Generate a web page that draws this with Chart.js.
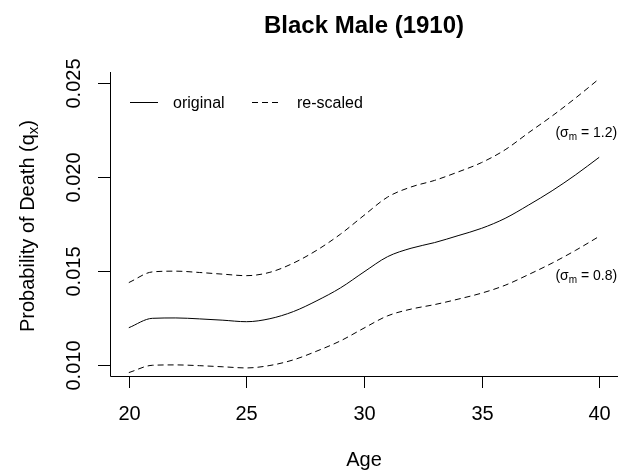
<!DOCTYPE html>
<html>
<head>
<meta charset="utf-8">
<script src="https://cdn.jsdelivr.net/npm/chart.js@4/dist/chart.umd.min.js"></script>
<style>
  html, body { margin: 0; padding: 0; background: #fff; }
  #wrap { width: 618px; height: 473px; }
</style>
</head>
<body>
<div id="wrap"><canvas id="qx-chart" width="618" height="473"></canvas></div>
<script>
// ages and death probabilities
const ages = [20, 21, 22, 23, 24, 25, 26, 27, 28, 29, 30, 31, 32, 33, 34, 35, 36, 37, 38, 39, 40];
const original = [0.01198, 0.01248, 0.0125, 0.01245, 0.01238, 0.0123, 0.01246, 0.01284, 0.01342, 0.0141, 0.01495,
  0.01576, 0.01621, 0.01651, 0.01688, 0.01727, 0.0178, 0.01851, 0.01927, 0.02012, 0.02105];
const rescaledHigh = [0.01438, 0.01495, 0.01499, 0.01492, 0.01483, 0.01475, 0.01493, 0.01542, 0.01611, 0.01696, 0.01796,
  0.01893, 0.01947, 0.01982, 0.02027, 0.02077, 0.02145, 0.02236, 0.02325, 0.02421, 0.02523];
const rescaledLow = [0.00959, 0.00998, 0.01, 0.00996, 0.0099, 0.00984, 0.00997, 0.01027, 0.01074, 0.01128, 0.01196,
  0.01261, 0.01297, 0.01321, 0.0135, 0.01382, 0.01424, 0.01481, 0.01542, 0.0161, 0.01684];

const xTicks = [20, 25, 30, 35, 40];
const yTicks = [0.010, 0.015, 0.020, 0.025];
const yTickLabels = ['0.010', '0.015', '0.020', '0.025'];
const sigmaLabels = ['1.2', '0.8'];
const sigmaAt = [[39.45, 0.0224], [39.45, 0.0148]];

const FONT = '"Liberation Sans", Arial, sans-serif';
const pts = vals => ages.map((a, i) => ({ x: a, y: vals[i] }));

// R-style frame, ticks, labels, legend and notes
const rAxes = {
  id: 'rAxes',
  afterDraw(chart) {
    const { ctx, chartArea: ca, scales: { x, y } } = chart;
    ctx.save();
    ctx.strokeStyle = '#000';
    ctx.fillStyle = '#000';
    ctx.lineWidth = 1;

    // bty = "l"
    ctx.beginPath();
    ctx.moveTo(ca.left + 0.5, ca.top);
    ctx.lineTo(ca.left + 0.5, ca.bottom + 0.5);
    ctx.lineTo(ca.right, ca.bottom + 0.5);
    ctx.stroke();

    ctx.font = '20px ' + FONT;
    ctx.textAlign = 'center';
    ctx.textBaseline = 'alphabetic';
    xTicks.forEach(t => {
      const px = Math.round(x.getPixelForValue(t)) + 0.5;
      ctx.beginPath();
      ctx.moveTo(px, ca.bottom);
      ctx.lineTo(px, ca.bottom + 12);
      ctx.stroke();
      ctx.fillText(String(t), px, 420);
    });
    yTicks.forEach((t, i) => {
      const py = Math.round(y.getPixelForValue(t)) + 0.5;
      ctx.beginPath();
      ctx.moveTo(ca.left - 12, py);
      ctx.lineTo(ca.left, py);
      ctx.stroke();
      ctx.save();
      ctx.translate(80, py);
      ctx.rotate(-Math.PI / 2);
      ctx.fillText(yTickLabels[i], 0, 0);
      ctx.restore();
    });

    // title and axis titles
    ctx.font = 'bold 24px ' + FONT;
    ctx.fillText('Black Male (1910)', 364, 33);
    ctx.font = '20px ' + FONT;
    ctx.fillText('Age', 364, 466);

    ctx.save();
    ctx.translate(34, 226);
    ctx.rotate(-Math.PI / 2);
    ctx.textAlign = 'left';
    const main = 'Probability of Death (q';
    ctx.font = '20px ' + FONT;
    const w1 = ctx.measureText(main).width;
    const w3 = ctx.measureText(')').width;
    ctx.font = '15px ' + FONT;
    const w2 = ctx.measureText('x').width;
    let sx = -(w1 + w2 + w3) / 2;
    ctx.font = '20px ' + FONT;
    ctx.fillText(main, sx, 0);
    ctx.font = '15px ' + FONT;
    ctx.fillText('x', sx + w1, 4);
    ctx.font = '20px ' + FONT;
    ctx.fillText(')', sx + w1 + w2, 0);
    ctx.restore();

    // legend
    ctx.beginPath();
    ctx.moveTo(130, 102.5);
    ctx.lineTo(158, 102.5);
    ctx.stroke();
    ctx.setLineDash([6, 4]);
    ctx.beginPath();
    ctx.moveTo(252, 102.5);
    ctx.lineTo(278, 102.5);
    ctx.stroke();
    ctx.setLineDash([]);
    ctx.font = '16px ' + FONT;
    ctx.textAlign = 'left';
    ctx.fillText('original', 173, 108);
    ctx.fillText('re-scaled', 297, 108);

    // sigma notes
    sigmaLabels.forEach((s, i) => {
      const cx = x.getPixelForValue(sigmaAt[i][0]);
      const cy = y.getPixelForValue(sigmaAt[i][1]) + 5;
      ctx.font = '14px ' + FONT;
      const a = ctx.measureText('(\u03c3').width;
      const c = ctx.measureText(' = ' + s + ')').width;
      ctx.font = '10px ' + FONT;
      const b = ctx.measureText('m').width;
      let lx = cx - (a + b + c) / 2;
      ctx.font = '14px ' + FONT;
      ctx.fillText('(\u03c3', lx, cy);
      ctx.font = '10px ' + FONT;
      ctx.fillText('m', lx + a, cy + 3);
      ctx.font = '14px ' + FONT;
      ctx.fillText(' = ' + s + ')', lx + a + b, cy);
    });
    ctx.restore();
  }
};

const line = (label, vals, dash) => ({
  label,
  data: pts(vals),
  borderColor: '#000',
  borderWidth: 1,
  borderDash: dash,
  pointRadius: 0,
  fill: false,
  cubicInterpolationMode: 'monotone'
});

new Chart(document.getElementById('qx-chart'), {
  type: 'line',
  data: {
    datasets: [
      line('original', original, []),
      line('re-scaled high', rescaledHigh, [6, 4]),
      line('re-scaled low', rescaledLow, [6, 4])
    ]
  },
  options: {
    responsive: false,
    animation: false,
    layout: { padding: { left: 110, top: 72, right: 0, bottom: 97 } },
    scales: {
      x: { type: 'linear', min: 19.2, max: 40.8, display: false },
      y: { min: 0.00941, max: 0.02559, display: false }
    },
    plugins: {
      legend: { display: false },
      title: { display: false },
      tooltip: { enabled: false }
    }
  },
  plugins: [rAxes]
});
</script>
</body>
</html>
